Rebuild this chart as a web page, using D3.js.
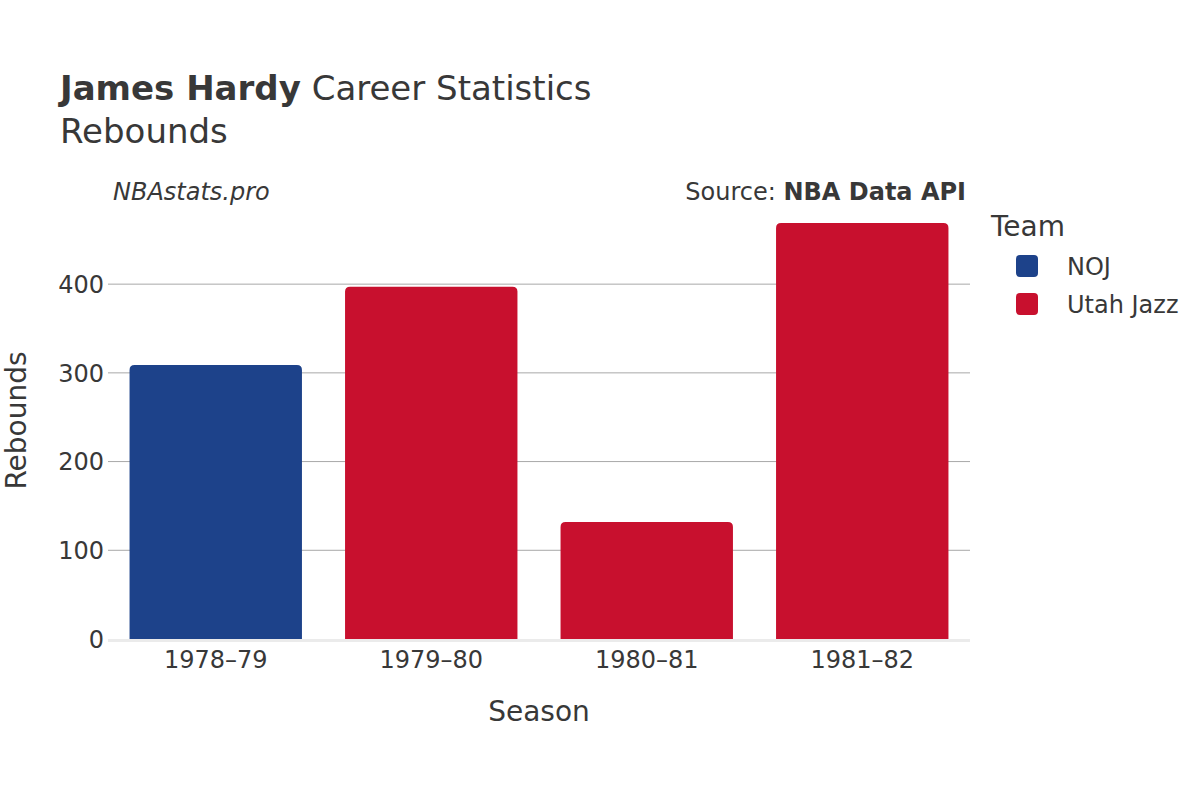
<!DOCTYPE html>
<html>
<head>
<meta charset="utf-8">
<script src="https://cdn.jsdelivr.net/npm/d3@7"></script>
<style>
  body { margin: 0; background: #fff; }
  svg text { font-family: "DejaVu Sans", sans-serif; fill: #383838; }
</style>
</head>
<body>
<div id="chart"></div>
<script>
var seasons = ["1978\u201379", "1979\u201380", "1980\u201381", "1981\u201382"];
var rebounds = [309, 397, 132, 469];
var teams = ["NOJ", "Utah Jazz", "Utah Jazz", "Utah Jazz"];
var legendTeams = ["NOJ", "Utah Jazz"];
var teamColors = ["#1d428a", "#c8102e"];
var yTicks = [0, 100, 200, 300, 400];

var width = 1200, height = 800;
var margin = {top: 202, right: 230, bottom: 161, left: 108};
var plot_w = width - margin.left - margin.right,
    plot_h = height - margin.top - margin.bottom;

var svg = d3.select("#chart").append("svg")
    .attr("width", width)
    .attr("height", height);

var x = d3.scaleBand()
    .domain(seasons)
    .range([0, plot_w])
    .paddingInner(0.2)
    .paddingOuter(0.1);

var y = d3.scaleLinear()
    .domain([0, 492.6])
    .range([plot_h, 0]);

var color = d3.scaleOrdinal()
    .domain(legendTeams)
    .range(teamColors);

var g = svg.append("g")
    .attr("transform", "translate(" + margin.left + "," + margin.top + ")");

// grid lines
g.append("g").selectAll("line")
    .data(yTicks.filter(function(d) { return d > 0; }))
    .enter().append("line")
    .attr("x1", 0).attr("x2", plot_w)
    .attr("y1", function(d) { return y(d); })
    .attr("y2", function(d) { return y(d); })
    .attr("stroke", "#a8a8a8")
    .attr("stroke-width", 1);

// zero line
g.append("line")
    .attr("x1", 0).attr("x2", plot_w)
    .attr("y1", y(0) + 1.5).attr("y2", y(0) + 1.5)
    .attr("stroke", "#ebebeb")
    .attr("stroke-width", 3);

// bars, rounded on top
var r = 5;
g.append("g").selectAll("path")
    .data(seasons)
    .enter().append("path")
    .attr("fill", function(d, i) { return color(teams[i]); })
    .attr("d", function(d, i) {
        var x0 = x(d), x1 = x(d) + x.bandwidth(),
            y0 = y(0), y1 = y(rebounds[i]);
        return "M" + x0 + "," + y0 +
            "V" + (y1 + r) +
            "Q" + x0 + "," + y1 + " " + (x0 + r) + "," + y1 +
            "H" + (x1 - r) +
            "Q" + x1 + "," + y1 + " " + x1 + "," + (y1 + r) +
            "V" + y0 + "Z";
    });

// y tick labels
g.append("g").selectAll("text")
    .data(yTicks)
    .enter().append("text")
    .attr("x", -4)
    .attr("y", function(d) { return y(d); })
    .attr("dy", "0.36em")
    .attr("text-anchor", "end")
    .attr("font-size", 24)
    .text(function(d) { return d; });

// x tick labels
g.append("g").selectAll("text")
    .data(seasons)
    .enter().append("text")
    .attr("x", function(d) { return x(d) + x.bandwidth() / 2; })
    .attr("y", plot_h + 29)
    .attr("text-anchor", "middle")
    .attr("font-size", 24)
    .text(function(d) { return d; });

// axis titles
svg.append("text")
    .attr("x", margin.left + plot_w / 2)
    .attr("y", 721)
    .attr("text-anchor", "middle")
    .attr("font-size", 28)
    .text("Season");

svg.append("text")
    .attr("transform", "translate(26," + (margin.top + plot_h / 2) + ") rotate(-90)")
    .attr("text-anchor", "middle")
    .attr("font-size", 28)
    .text("Rebounds");

// title
var title = svg.append("text")
    .attr("x", 60)
    .attr("y", 100)
    .attr("font-size", 34);
title.append("tspan").attr("font-weight", "bold").text("James Hardy");
title.append("tspan").text(" Career Statistics");

svg.append("text")
    .attr("x", 60)
    .attr("y", 143)
    .attr("font-size", 34)
    .text("Rebounds");

svg.append("text")
    .attr("x", 113)
    .attr("y", 200)
    .attr("font-size", 24)
    .attr("font-style", "italic")
    .text("NBAstats.pro");

var src = svg.append("text")
    .attr("x", 966)
    .attr("y", 200)
    .attr("text-anchor", "end")
    .attr("font-size", 24);
src.append("tspan").text("Source: ");
src.append("tspan").attr("font-weight", "bold").text("NBA Data API");

// legend
var legend = svg.append("g");
legend.append("text")
    .attr("x", 991)
    .attr("y", 236)
    .attr("font-size", 28)
    .text("Team");

var items = legend.selectAll("g.item")
    .data(legendTeams)
    .enter().append("g")
    .attr("class", "item")
    .attr("transform", function(d, i) { return "translate(1016," + (266 + i * 38) + ")"; });

items.append("rect")
    .attr("x", 0).attr("y", -11)
    .attr("width", 22).attr("height", 22)
    .attr("rx", 4)
    .attr("fill", function(d) { return color(d); });

items.append("text")
    .attr("x", 51)
    .attr("y", 0)
    .attr("dy", "0.36em")
    .attr("font-size", 24)
    .text(function(d) { return d; });
</script>
</body>
</html>
